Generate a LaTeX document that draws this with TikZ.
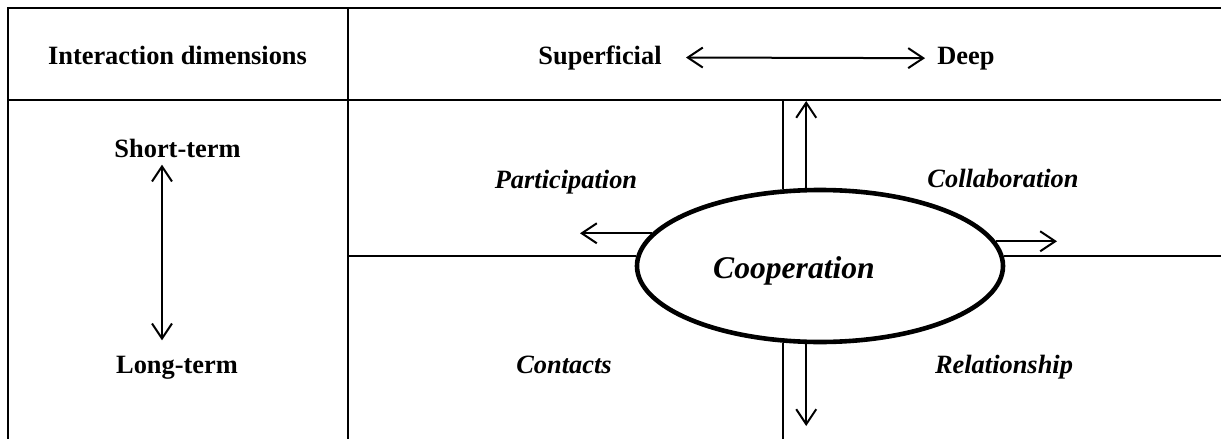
\documentclass[tikz,border=0pt]{standalone}
\usepackage{fontspec}
\setmainfont{Liberation Serif}
\usetikzlibrary{arrows.meta,shapes.geometric}

\begin{document}
\begin{tikzpicture}[x=0.5pt,y=-0.5pt,
  >={Straight Barb[length=7.5pt,width=10pt]},
  grid/.style={line width=1.1pt},
  arr/.style={line width=1pt},
  head/.style={font=\fontsize{13.2}{15}\selectfont\bfseries,inner sep=0pt,anchor=base},
  quad/.style={font=\fontsize{13.2}{15}\selectfont\bfseries\itshape,inner sep=0pt,anchor=base}]
\useasboundingbox (0,0) rectangle (1221,439);
\coordinate (rowline) at (784,100);
\coordinate (bottomedge) at (784,439);
\coordinate (leftdiv) at (348,256);
\coordinate (rightedge) at (1221,256);
\coordinate (uptip) at (807,101);
\coordinate (downtip) at (807,426);
\coordinate (lefttip) at (580,234);
\coordinate (righttip) at (1057,241);
\draw[grid] (1221,8) -- (8,8) -- (8,439);
\draw[grid] (8,100) -- (1221,100);
\draw[grid] (348,8) -- (348,439);
\node[head] (dims) at (177.5,64) {Interaction dimensions};
 \node[head] (sup) at (600,64) {Superficial};
 \node[head] (deep) at (966,64) {Deep};
    \draw[arr,<->] ([xshift=12pt]sup.east) -- ([xshift=-6pt]deep.west);
\node[head] (short) at (177.5,157) {Short-term};
\node[head] (long) at (177,373) {Long-term};
    \draw[arr,<->] ([xshift=-7.75pt,yshift=-3.5pt]short.south) -- ([xshift=-7.5pt,yshift=7.5pt]long.north);
\node[draw,ellipse,line width=2.3pt,minimum width=183pt,minimum height=76pt,inner sep=0pt] (coop) at (820,266) {};
 \node[quad,font=\fontsize{15.8}{18}\selectfont\bfseries\itshape] (coopname) at (794,278) {Cooperation};
    \draw[grid] (coop.116) -- (coop.116 |- rowline);
    \draw[grid] (coop.-116) -- (coop.-116 |- bottomedge);
    \draw[grid] (coop.177) -- (coop.177 -| leftdiv);
    \draw[grid] (coop.3) -- (coop.3 -| rightedge);
    \draw[arr,->] (coop.100) -- (coop.100 |- uptip);
    \draw[arr,->] (coop.-100) -- (coop.-100 |- downtip);
    \draw[arr,->] (coop.169) -- (coop.169 -| lefttip);
    \draw[arr,->] (coop.8) -- (coop.8 -| righttip);
\node[quad] (part) at (566,188) {Participation};
\node[quad] (collab) at (1003,187) {Collaboration};
\node[quad] (cont) at (564,373) {Contacts};
\node[quad] (rel) at (1004,373) {Relationship};
\end{tikzpicture}
\end{document}
